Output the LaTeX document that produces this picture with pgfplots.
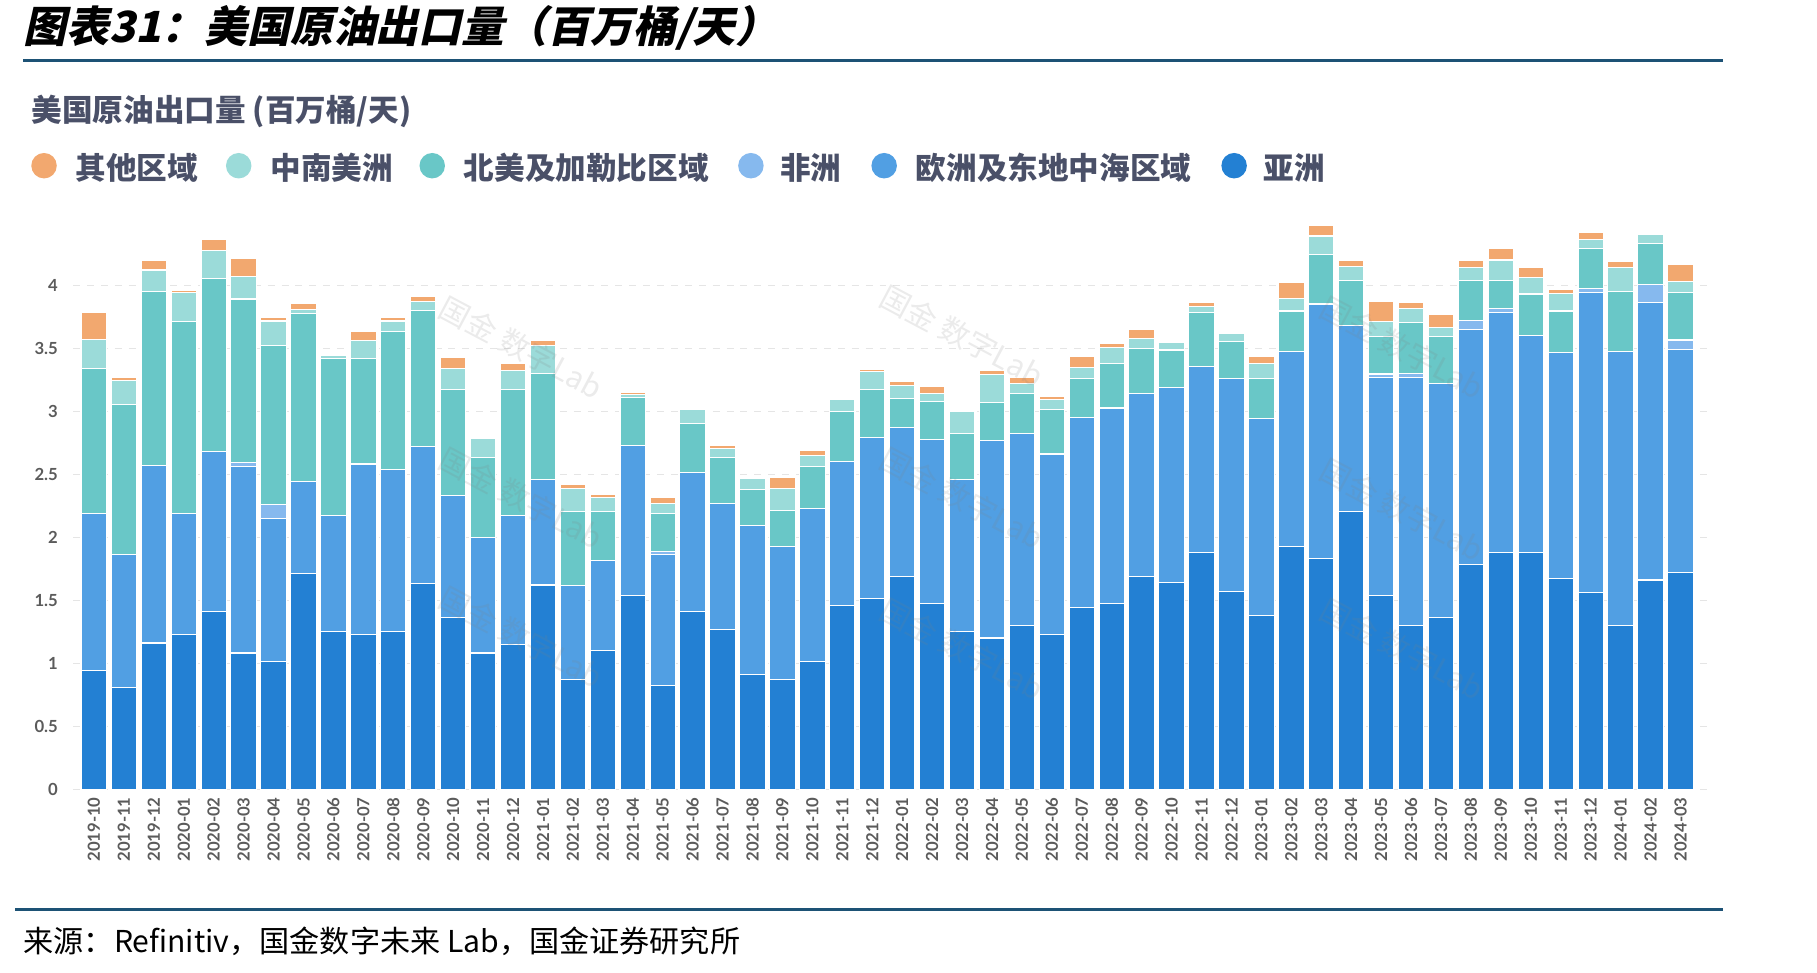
\documentclass[border=0pt]{standalone}
\usepackage{pgfplots}
\pgfplotsset{compat=1.18}
\usepackage{pgfplotstable}
\usepackage{fontspec}
\setmainfont{Lato}
\newfontfamily\cjk{Noto Sans CJK SC}
\newfontfamily\cjktitle[FakeSlant=0.22]{Noto Sans CJK SC}
\definecolor{casia}{HTML}{2380D3}
\definecolor{ceur}{HTML}{519FE3}
\definecolor{cafr}{HTML}{86B9EE}
\definecolor{cna}{HTML}{69C7C7}
\definecolor{csa}{HTML}{9BDBD9}
\definecolor{coth}{HTML}{F2A86F}
\definecolor{labc}{HTML}{4A5068}
\definecolor{tickc}{HTML}{5B5B5B}
\definecolor{linec}{HTML}{1D5275}

\pgfplotstableread{
x asia eur afr na sa oth
0 0.94 1.25 0 1.15 0.23 0.21
1 0.81 1.05 0 1.19 0.19 0.03
2 1.16 1.41 0 1.38 0.17 0.08
3 1.23 0.96 0 1.52 0.23 0.02
4 1.41 1.27 0 1.375 0.22 0.09
5 1.08 1.48 0.03 1.30 0.18 0.14
6 1.01 1.14 0.11 1.26 0.195 0.03
7 1.71 0.73 0 1.335 0.03 0.05
8 1.25 0.92 0 1.25 0.02 0
9 1.23 1.35 0 0.84 0.14 0.07
10 1.25 1.29 0 1.09 0.085 0.025
11 1.63 1.09 0 1.08 0.07 0.04
12 1.36 0.97 0 0.84 0.17 0.09
13 1.08 0.92 0 0.63 0.15 0
14 1.15 1.02 0 1.00 0.15 0.06
15 1.62 0.84 0 0.84 0.22 0.045
16 0.87 0.745 0 0.59 0.18 0.03
17 1.10 0.715 0 0.39 0.11 0.025
18 1.54 1.19 0 0.375 0.025 0.02
19 0.82 1.04 0.025 0.30 0.085 0.045
20 1.41 1.10 0 0.395 0.11 0
21 1.27 1.00 0 0.36 0.075 0.025
22 0.91 1.18 0 0.285 0.09 0
23 0.87 1.055 0 0.285 0.175 0.09
24 1.01 1.22 0 0.33 0.085 0.04
25 1.46 1.14 0 0.40 0.09 0
26 1.51 1.28 0 0.38 0.145 0.015
27 1.69 1.18 0 0.23 0.105 0.03
28 1.475 1.30 0 0.30 0.065 0.055
29 1.25 1.21 0 0.36 0.18 0
30 1.20 1.57 0 0.30 0.22 0.035
31 1.30 1.52 0 0.32 0.08 0.045
32 1.23 1.43 0 0.35 0.085 0.02
33 1.44 1.51 0 0.31 0.085 0.09
34 1.475 1.55 0 0.35 0.13 0.035
35 1.69 1.45 0 0.36 0.075 0.07
36 1.64 1.545 0 0.30 0.06 0
37 1.88 1.475 0 0.43 0.045 0.03
38 1.57 1.69 0 0.29 0.07 0
39 1.38 1.56 0 0.32 0.115 0.06
40 1.925 1.55 0 0.32 0.10 0.13
41 1.83 2.02 0 0.39 0.15 0.08
42 2.205 1.475 0 0.36 0.105 0.05
43 1.54 1.73 0.025 0.30 0.115 0.16
44 1.30 1.965 0.035 0.405 0.11 0.05
45 1.36 1.86 0 0.37 0.075 0.105
46 1.785 1.86 0.075 0.32 0.10 0.06
47 1.88 1.90 0.035 0.22 0.165 0.095
48 1.88 1.72 0 0.33 0.13 0.08
49 1.67 1.795 0 0.33 0.14 0.03
50 1.56 2.38 0.03 0.32 0.07 0.06
51 1.30 2.17 0 0.48 0.19 0.045
52 1.66 2.205 0.14 0.325 0.07 0
53 1.72 1.77 0.075 0.375 0.09 0.135
}\data

\begin{document}
\begin{tikzpicture}
\useasboundingbox (0,0) rectangle (784pt,-419.5pt);
\begin{axis}[
  at={(31.5pt,-340.5pt)}, anchor=south west,
  scale only axis, width=706.5pt, height=250.1pt,
  xmin=-0.7, xmax=54, ymin=0, ymax=4.6,
  ybar stacked, bar width=11pt,
  ytick={0,0.5,1,1.5,2,2.5,3,3.5,4},
  xtick={0,...,53},
  xticklabels={2019-10,2019-11,2019-12,2020-01,2020-02,2020-03,2020-04,2020-05,2020-06,2020-07,2020-08,2020-09,2020-10,2020-11,2020-12,2021-01,2021-02,2021-03,2021-04,2021-05,2021-06,2021-07,2021-08,2021-09,2021-10,2021-11,2021-12,2022-01,2022-02,2022-03,2022-04,2022-05,2022-06,2022-07,2022-08,2022-09,2022-10,2022-11,2022-12,2023-01,2023-02,2023-03,2023-04,2023-05,2023-06,2023-07,2023-08,2023-09,2023-10,2023-11,2023-12,2024-01,2024-02,2024-03},
  ymajorgrids, grid style={dashed, black!10},
  axis line style={draw=none},
  major tick length=0pt,
  /pgf/number format/assume math mode=true,
  tick label style={font=\fontsize{7.2}{8}\selectfont\bfseries, text=tickc},
  yticklabel style={xshift=-3pt},
  xticklabel style={rotate=90, anchor=east, yshift=0pt},
]
\addplot[fill=casia, draw=white, line width=0.5pt] table[x=x,y=asia]{\data};
\addplot[fill=ceur, draw=white, line width=0.5pt] table[x=x,y=eur]{\data};
\addplot[fill=cafr, draw=white, line width=0.5pt] table[x=x,y=afr]{\data};
\addplot[fill=cna, draw=white, line width=0.5pt] table[x=x,y=na]{\data};
\addplot[fill=csa, draw=white, line width=0.5pt] table[x=x,y=sa]{\data};
\addplot[fill=coth, draw=white, line width=0.5pt] table[x=x,y=oth]{\data};
\end{axis}
\begin{scope}[x=0.5pt,y=-0.5pt]
  % title
  \node[anchor=west, inner sep=0pt] at (20,24) {\cjktitle\bfseries\fontsize{18.5}{20}\selectfont 图表31：美国原油出口量（百万桶/天）};
  \draw[linec, line width=1.5pt] (20,52) -- (1487,52);
  % subtitle
  \node[anchor=west, inner sep=0pt, text=labc] at (27,96) {\cjk\bfseries\fontsize{13.2}{15}\selectfont 美国原油出口量 (百万桶/天)};
  % legend
  \foreach \cx/\tx/\col/\lab in {38/65/coth/其他区域, 206/233/csa/中南美洲, 373/400/cna/北美及加勒比区域, 648/673/cafr/非洲, 763/790/ceur/欧洲及东地中海区域, 1065/1090/casia/亚洲}{
    \fill[\col] (\cx,143) circle (11);
    \node[anchor=west, inner sep=0pt, text=labc] at (\tx,145) {\cjk\bfseries\fontsize{13.2}{15}\selectfont \lab};
  }
  % watermarks
  \foreach \wx/\wy in {450/300, 830/290, 1210/300, 450/430, 830/430, 1210/440, 450/550, 830/560, 1210/560}{
    \node[rotate=-28, text=gray, text opacity=0.16] at (\wx,\wy) {\cjk\fontsize{13}{14}\selectfont 国金\ 数字Lab};
  }
  % bottom rule and source
  \draw[linec, line width=1.5pt] (13,785) -- (1487,785);
  \node[anchor=west, inner sep=0pt] at (20,812) {\cjk\fontsize{13}{15}\selectfont 来源：Refinitiv，国金数字未来 Lab，国金证券研究所};
\end{scope}
\end{tikzpicture}
\end{document}
